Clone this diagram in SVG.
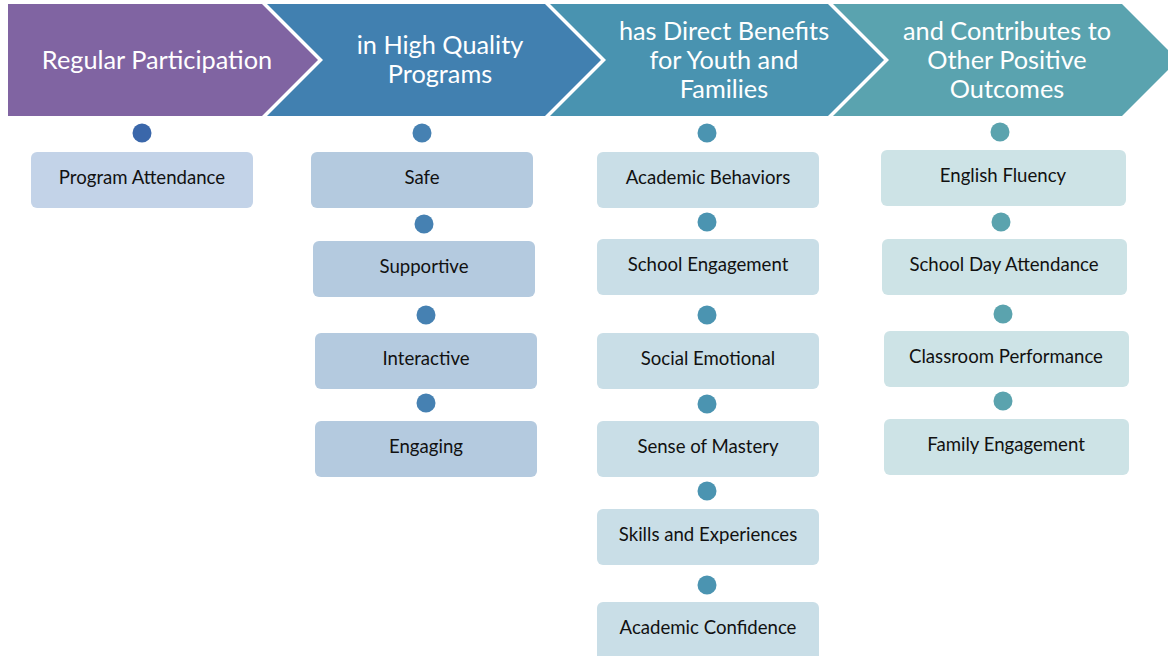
<svg xmlns="http://www.w3.org/2000/svg" width="1168" height="656" viewBox="0 0 1168 656">
<style>
.hd{font-family:Lato,"Noto Sans",sans-serif;font-size:25.3px;fill:#ffffff;text-anchor:middle}
.bx{font-family:Lato,"Noto Sans",sans-serif;font-size:18.6px;fill:#111111;text-anchor:middle}
.b1{fill:#C3D3E8}.b2{fill:#B4CADF}.b3{fill:#C9DEE7}.b4{fill:#CDE3E6}
.d1{fill:#3A67AA}.d2{fill:#4681B2}.d3{fill:#4B94B1}.d4{fill:#5BA3AE}
</style>
<rect width="1168" height="656" fill="#ffffff"/>
<g id="stage1">
<polygon points="8,4 262,4 318,60 262,116 8,116" fill="#8064A2"/>
<text class="hd" x="157" y="69">Regular Participation</text>
</g>
<g id="stage2">
<polygon points="267,4 545,4 601,60 545,116 267,116 323,60" fill="#4180B0"/>
<text class="hd" x="440" y="54">in High Quality</text>
<text class="hd" x="440" y="83">Programs</text>
</g>
<g id="stage3">
<polygon points="550,4 828,4 884,60 828,116 550,116 606,60" fill="#4993B0"/>
<text class="hd" x="724" y="40">has Direct Benefits</text>
<text class="hd" x="724" y="69">for Youth and</text>
<text class="hd" x="724" y="98">Families</text>
</g>
<g id="stage4">
<polygon points="833,4 1122,4 1178,60 1122,116 833,116 889,60" fill="#5AA3AF"/>
<text class="hd" x="1007" y="40">and Contributes to</text>
<text class="hd" x="1007" y="69">Other Positive</text>
<text class="hd" x="1007" y="98">Outcomes</text>
</g>
<g id="connectors">
<circle class="d1" cx="142" cy="133" r="9.5"/>
<circle class="d2" cx="422" cy="133" r="9.5"/>
<circle class="d2" cx="424" cy="224" r="9.5"/>
<circle class="d2" cx="426" cy="315" r="9.5"/>
<circle class="d2" cx="426" cy="403" r="9.5"/>
<circle class="d3" cx="707" cy="133" r="9.5"/>
<circle class="d3" cx="707" cy="222" r="9.5"/>
<circle class="d3" cx="707" cy="315" r="9.5"/>
<circle class="d3" cx="707" cy="404" r="9.5"/>
<circle class="d3" cx="707" cy="491" r="9.5"/>
<circle class="d3" cx="707" cy="585" r="9.5"/>
<circle class="d4" cx="1000" cy="132" r="9.5"/>
<circle class="d4" cx="1001" cy="222" r="9.5"/>
<circle class="d4" cx="1003" cy="314" r="9.5"/>
<circle class="d4" cx="1003" cy="401" r="9.5"/>
</g>
<g id="program-attendance"><rect class="b1" x="31" y="152" width="222" height="56" rx="6"/><text class="bx" x="142" y="184">Program Attendance</text></g>
<g id="safe"><rect class="b2" x="311" y="152" width="222" height="56" rx="6"/><text class="bx" x="422" y="184">Safe</text></g>
<g id="supportive"><rect class="b2" x="313" y="241" width="222" height="56" rx="6"/><text class="bx" x="424" y="273">Supportive</text></g>
<g id="interactive"><rect class="b2" x="315" y="333" width="222" height="56" rx="6"/><text class="bx" x="426" y="365">Interactive</text></g>
<g id="engaging"><rect class="b2" x="315" y="421" width="222" height="56" rx="6"/><text class="bx" x="426" y="453">Engaging</text></g>
<g id="academic-behaviors"><rect class="b3" x="597" y="152" width="222" height="56" rx="6"/><text class="bx" x="708" y="184">Academic Behaviors</text></g>
<g id="school-engagement"><rect class="b3" x="597" y="239" width="222" height="56" rx="6"/><text class="bx" x="708" y="271">School Engagement</text></g>
<g id="social-emotional"><rect class="b3" x="597" y="333" width="222" height="56" rx="6"/><text class="bx" x="708" y="365">Social Emotional</text></g>
<g id="sense-of-mastery"><rect class="b3" x="597" y="421" width="222" height="56" rx="6"/><text class="bx" x="708" y="453">Sense of Mastery</text></g>
<g id="skills-and-experiences"><rect class="b3" x="597" y="509" width="222" height="56" rx="6"/><text class="bx" x="708" y="541">Skills and Experiences</text></g>
<g id="academic-confidence"><rect class="b3" x="597" y="602" width="222" height="60" rx="6"/><text class="bx" x="708" y="634">Academic Confidence</text></g>
<g id="english-fluency"><rect class="b4" x="881" y="150" width="245" height="56" rx="6"/><text class="bx" x="1003" y="182">English Fluency</text></g>
<g id="school-day-attendance"><rect class="b4" x="882" y="239" width="245" height="56" rx="6"/><text class="bx" x="1004" y="271">School Day Attendance</text></g>
<g id="classroom-performance"><rect class="b4" x="884" y="331" width="245" height="56" rx="6"/><text class="bx" x="1006" y="363">Classroom Performance</text></g>
<g id="family-engagement"><rect class="b4" x="884" y="419" width="245" height="56" rx="6"/><text class="bx" x="1006" y="451">Family Engagement</text></g>
</svg>
